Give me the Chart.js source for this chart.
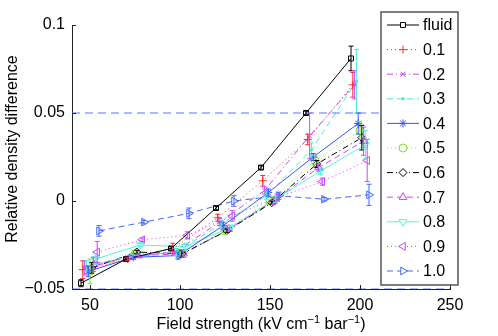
<!DOCTYPE html>
<html>
<head>
<meta charset="utf-8">
<script src="https://cdn.jsdelivr.net/npm/chart.js@4/dist/chart.umd.min.js"></script>
<style>
  body { margin: 0; background: #fff; }
  #wrap { width: 498px; height: 336px; }
</style>
</head>
<body>
<div id="wrap"><canvas id="myChart" width="498" height="336"></canvas></div>
<script>
// Tick values
var xTicks = [50, 100, 150, 200, 250];
var yTicks = [-0.05, 0, 0.05, 0.1];
var yTickLabels = ['\u22120.05', '0', '0.05', '0.1'];

// Series names (legend order)
var seriesNames = ['fluid', '0.1', '0.2', '0.3', '0.4', '0.5', '0.6', '0.7', '0.8', '0.9', '1.0'];

// Field strength of each point (points are shifted slightly per series)
var xFluid = [45, 70, 95, 120, 145, 170, 195];
var x01 = [46, 71, 96, 121, 146, 171, 196];
var x02 = [47, 72, 97, 122, 147, 172, 197];
var x03 = [48, 73, 98, 123, 148, 173, 198];
var x04 = [49, 74, 99, 124, 149, 174, 199];
var x05 = [50, 75, 100, 125, 150, 175, 200];
var x06 = [51, 76, 101, 126, 151, 176, 201];
var x07 = [52, 77, 102, 127, 152, 177, 202];
var x08 = [53, 78, 103, 128, 153, 178, 203];
var x09 = [54, 79, 104, 129, 154, 179, 204];
var x10 = [55, 80, 105, 130, 155, 180, 205];

// Relative density difference
var yFluid = [-0.0467, -0.033, -0.027, -0.004, 0.019, 0.050, 0.081];
var y01 = [-0.039, -0.033, -0.027, -0.0095, 0.0115, 0.035, 0.066];
var y02 = [-0.038, -0.032, -0.029, -0.012, 0.006, 0.037, 0.066];
var y03 = [-0.037, -0.031, -0.029, -0.013, 0.003, 0.029, 0.068];
var y04 = [-0.040, -0.032, -0.031, -0.014, 0.0048, 0.025, 0.044];
var y05 = [-0.040, -0.030, -0.030, -0.017, 0.000, 0.023, 0.040];
var y06 = [-0.038, -0.029, -0.030, -0.017, -0.001, 0.021, 0.036];
var y07 = [-0.036, -0.031, -0.030, -0.016, 0.000, 0.019, 0.034];
var y08 = [-0.033, -0.025, -0.026, -0.015, 0.001, 0.017, 0.032];
var y09 = [-0.029, -0.022, -0.0195, -0.0085, 0.002, 0.011, 0.023];
var y10 = [-0.017, -0.012, -0.007, 0.000, 0.003, 0.001, 0.0035];

// Error bar half-lengths
var eFluid = [0.002, 0.001, 0.001, 0.001, 0.001, 0.001, 0.007];
var e01 = [0.005, 0.001, 0.003, 0.002, 0.003, 0.003, 0.007];
var e02 = [0.004, 0.001, 0.002, 0.002, 0.002, 0.013, 0.008];
var e03 = [0.003, 0.001, 0.002, 0.002, 0.002, 0.004, 0.018];
var e04 = [0.003, 0.001, 0.002, 0.002, 0.002, 0.002, 0.006];
var e05 = [0.007, 0.001, 0.002, 0.001, 0.002, 0.003, 0.005];
var e06 = [0.003, 0.001, 0.002, 0.001, 0.001, 0.002, 0.007];
var e07 = [0.004, 0.001, 0.002, 0.001, 0.002, 0.002, 0.008];
var e08 = [0.003, 0.001, 0.002, 0.001, 0.002, 0.002, 0.008];
var e09 = [0.006, 0.001, 0.002, 0.003, 0.002, 0.002, 0.012];
var e10 = [0.003, 0.001, 0.003, 0.003, 0.002, 0.001, 0.006];

// Horizontal reference lines
var refLines = [0.05, -0.05];

var xs = [xFluid, x01, x02, x03, x04, x05, x06, x07, x08, x09, x10];
var ys = [yFluid, y01, y02, y03, y04, y05, y06, y07, y08, y09, y10];
var es = [eFluid, e01, e02, e03, e04, e05, e06, e07, e08, e09, e10];

var styles = [
  { color: '#000000', dash: [], point: 'rect', rot: 0, r: 3.5 },
  { color: '#ff2a2a', dash: [1, 3], point: 'cross', rot: 0, r: 4 },
  { color: '#c84cff', dash: [6, 3, 1, 3], point: 'crossRot', rot: 0, r: 3.5 },
  { color: '#45eec8', dash: [6, 4], point: 'circle', rot: 0, r: 1.2, fill: true },
  { color: '#3355ff', dash: [], point: 'star', rot: 0, r: 4 },
  { color: '#7ee22a', dash: [1, 3], point: 'circle', rot: 0, r: 4 },
  { color: '#000000', dash: [6, 3, 1, 3], point: 'rectRot', rot: 0, r: 4 },
  { color: '#cc44ff', dash: [6, 4], point: 'triangle', rot: 0, r: 4.5 },
  { color: '#55f5d5', dash: [], point: 'triangle', rot: 180, r: 4.5 },
  { color: '#cc44ff', dash: [1, 3], point: 'triangle', rot: -90, r: 4.5 },
  { color: '#4466ff', dash: [6, 4], point: 'triangle', rot: 90, r: 4.5 }
];

var datasets = [];
refLines.forEach(function (v) {
  datasets.push({
    data: [{ x: 40, y: v }, { x: 250, y: v }],
    showLine: true,
    borderColor: '#5577ff',
    borderWidth: 1,
    borderDash: [8, 5],
    pointRadius: 0,
    isRef: true
  });
});
seriesNames.forEach(function (name, i) {
  var s = styles[i];
  datasets.push({
    label: name,
    data: xs[i].map(function (x, j) { return { x: x, y: ys[i][j] }; }),
    errors: es[i],
    showLine: true,
    borderColor: s.color,
    borderWidth: 1,
    borderDash: s.dash,
    pointStyle: s.point,
    pointRotation: s.rot,
    pointRadius: s.r,
    pointBorderWidth: 1,
    pointBackgroundColor: s.fill ? s.color : 'rgba(0,0,0,0)',
    pointBorderColor: s.color
  });
});

// error bars, inward ticks, axis titles and legend
var extras = {
  id: 'extras',
  afterDatasetsDraw: function (chart) {
    var ctx = chart.ctx, xs_ = chart.scales.x, ys_ = chart.scales.y;
    ctx.save();
    chart.data.datasets.forEach(function (ds) {
      if (!ds.errors) return;
      ctx.strokeStyle = ds.borderColor;
      ctx.lineWidth = 1;
      ctx.setLineDash([]);
      ds.data.forEach(function (p, j) {
        var px = xs_.getPixelForValue(p.x);
        var top = ys_.getPixelForValue(p.y + ds.errors[j]);
        var bot = ys_.getPixelForValue(p.y - ds.errors[j]);
        ctx.beginPath();
        ctx.moveTo(px, top); ctx.lineTo(px, bot);
        ctx.moveTo(px - 2.5, top); ctx.lineTo(px + 2.5, top);
        ctx.moveTo(px - 2.5, bot); ctx.lineTo(px + 2.5, bot);
        ctx.stroke();
      });
    });
    ctx.restore();
  },
  afterDraw: function (chart) {
    var ctx = chart.ctx, area = chart.chartArea;
    var sx = chart.scales.x, sy = chart.scales.y;
    ctx.save();
    // inward tick marks
    ctx.strokeStyle = '#222';
    ctx.lineWidth = 1;
    ctx.beginPath();
    xTicks.forEach(function (v) {
      var px = Math.round(sx.getPixelForValue(v)) + 0.5;
      ctx.moveTo(px, area.bottom); ctx.lineTo(px, area.bottom - 4);
    });
    yTicks.forEach(function (v) {
      var py = Math.round(sy.getPixelForValue(v)) + 0.5;
      ctx.moveTo(area.left, py); ctx.lineTo(area.left + 4, py);
    });
    ctx.stroke();

    // x title with superscripts
    ctx.fillStyle = '#000';
    ctx.textBaseline = 'alphabetic';
    var parts = [
      ['Field strength (kV cm', 16, 0], ['\u22121', 11, -6],
      [' bar', 16, 0], ['\u22121', 11, -6], [')', 16, 0]
    ];
    var total = 0;
    parts.forEach(function (p) { ctx.font = p[1] + 'px "Liberation Sans", Arial, sans-serif'; total += ctx.measureText(p[0]).width; });
    var tx = (area.left + area.right) / 2 - total / 2;
    parts.forEach(function (p) {
      ctx.font = p[1] + 'px "Liberation Sans", Arial, sans-serif';
      ctx.fillText(p[0], tx, 329 + p[2]);
      tx += ctx.measureText(p[0]).width;
    });

    // y title
    ctx.save();
    ctx.translate(17, (area.top + area.bottom) / 2 - 8);
    ctx.rotate(-Math.PI / 2);
    ctx.font = '16px "Liberation Sans", Arial, sans-serif';
    ctx.textAlign = 'center';
    ctx.fillText('Relative density difference', 0, 0);
    ctx.restore();

    // legend box
    var lx = 381, ly = 12, lw = 77, lh = 273;
    ctx.fillStyle = '#fff';
    ctx.fillRect(lx, ly, lw, lh);
    ctx.strokeStyle = '#555';
    ctx.lineWidth = 1.5;
    ctx.strokeRect(lx, ly, lw, lh);
    ctx.font = '16px "Liberation Sans", Arial, sans-serif';
    ctx.textAlign = 'left';
    ctx.textBaseline = 'middle';
    seriesNames.forEach(function (name, i) {
      var s = styles[i];
      var rowY = 25 + i * 24.6;
      ctx.strokeStyle = s.color;
      ctx.lineWidth = 1;
      ctx.setLineDash(s.dash);
      ctx.beginPath();
      ctx.moveTo(387, rowY); ctx.lineTo(419, rowY);
      ctx.stroke();
      ctx.setLineDash([]);
      ctx.fillStyle = s.fill ? s.color : '#fff';
      Chart.helpers.drawPoint(ctx, {
        pointStyle: s.point, radius: s.r, rotation: s.rot, borderWidth: 1
      }, 403, rowY);
      ctx.fillStyle = '#000';
      ctx.fillText(name, 423, rowY + 1);
    });
    ctx.restore();
  }
};

var ctx = document.getElementById('myChart').getContext('2d');
var myChart = new Chart(ctx, {
  type: 'scatter',
  data: { datasets: datasets },
  options: {
    responsive: false,
    animation: false,
    devicePixelRatio: 1,
    layout: { padding: { left: 0, top: 25, right: 48, bottom: 0 } },
    plugins: { legend: { display: false }, tooltip: { enabled: false } },
    scales: {
      x: {
        type: 'linear',
        min: 40,
        max: 250,
        grid: { display: false, drawTicks: false },
        border: { display: true, color: '#222', width: 1 },
        afterBuildTicks: function (s) { s.ticks = xTicks.map(function (v) { return { value: v }; }); },
        afterFit: function (s) { s.height = 47; },
        ticks: { color: '#000', padding: 7, font: { size: 16, family: '"Liberation Sans", Arial, sans-serif' } }
      },
      y: {
        type: 'linear',
        min: -0.05,
        max: 0.1,
        grid: { display: false, drawTicks: false },
        border: { display: true, color: '#222', width: 1 },
        afterBuildTicks: function (s) { s.ticks = yTicks.map(function (v) { return { value: v }; }); },
        afterFit: function (s) { s.width = 72; },
        ticks: {
          color: '#000',
          padding: 7,
          font: { size: 16, family: '"Liberation Sans", Arial, sans-serif' },
          callback: function (v) { return yTickLabels[yTicks.indexOf(v)]; }
        }
      }
    }
  },
  plugins: [extras]
});
</script>
</body>
</html>
